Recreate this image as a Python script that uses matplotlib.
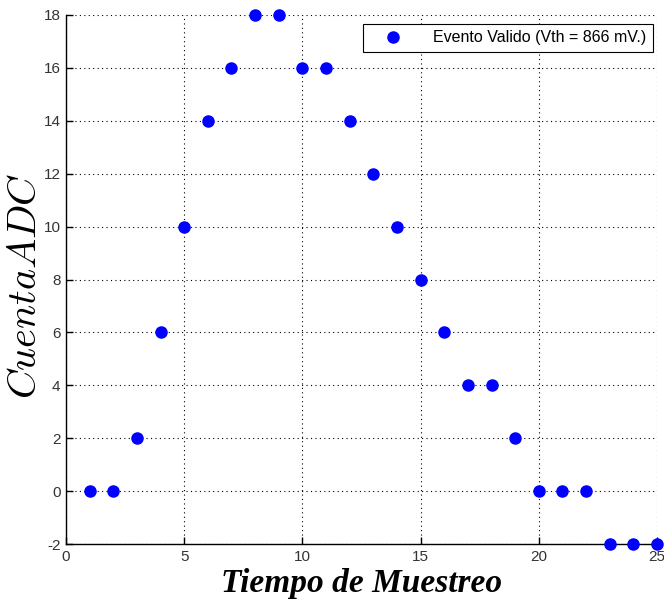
import matplotlib
matplotlib.use("Agg")
import matplotlib.pyplot as plt
from matplotlib.ticker import FixedFormatter

# Sampled ADC counts per sample index
muestras = [1, 2, 3, 4, 5, 6, 7, 8, 9, 10, 11, 12, 13, 14, 15, 16, 17, 18, 19, 20, 21, 22, 23, 24, 25]
cuentas = [0, 0, 2, 6, 10, 14, 16, 18, 18, 16, 16, 14, 12, 10, 8, 6, 4, 4, 2, 0, 0, 0, -2, -2, -2]
etiqueta = "Evento Valido (Vth = 866 mV.)"
xticks = [0, 5, 10, 15, 20, 25]
yticks = [-2, 0, 2, 4, 6, 8, 10, 12, 14, 16, 18]

plt.rcParams["mathtext.fontset"] = "cm"

W, H = 664, 604
fig = plt.figure(figsize=(W / 100, H / 100), dpi=100)
ax = fig.add_axes([66 / W, 1 - 544 / H, (657 - 66) / W, (544 - 15) / H])

ax.plot(muestras, cuentas, linestyle="none", marker="o", markersize=8,
        color="#0000ff", label=etiqueta, clip_on=False, zorder=5)

ax.set_xlim(0, 25)
ax.set_ylim(-2, 18)
ax.set_xticks(xticks)
ax.set_yticks(yticks)
ax.xaxis.set_major_formatter(FixedFormatter([str(v) for v in xticks]))
ax.yaxis.set_major_formatter(FixedFormatter([str(v) for v in yticks]))
ax.grid(True, linestyle=(0, (1, 3)), color="black", linewidth=0.8)

for s in ["top", "right"]:
    ax.spines[s].set_visible(False)
for s in ["left", "bottom"]:
    ax.spines[s].set_linewidth(1.0)
    ax.spines[s].set_color("black")

ax.tick_params(direction="in", length=5, width=1, labelsize=11,
               labelcolor="#333333", pad=4)
for lab in ax.get_xticklabels() + ax.get_yticklabels():
    lab.set_fontfamily("Liberation Sans")

ax.set_xlabel("Tiempo de Muestreo", fontfamily="Liberation Serif",
              fontweight="bold", fontstyle="italic", fontsize=24, labelpad=3)
fig.text(25 / W, 1 - 286 / H, r"$Cuenta ADC$", fontsize=29, rotation=90,
         ha="center", va="center")

leg = ax.legend(loc="upper right", bbox_to_anchor=(0.993, 0.983), frameon=True,
                fancybox=False, edgecolor="black", framealpha=1,
                prop={"family": "Liberation Sans", "size": 11.5},
                handletextpad=1.0, borderpad=0.4, handlelength=3.0,
                borderaxespad=0)
leg.get_frame().set_linewidth(0.8)

fig.savefig("out.png", dpi=100)
